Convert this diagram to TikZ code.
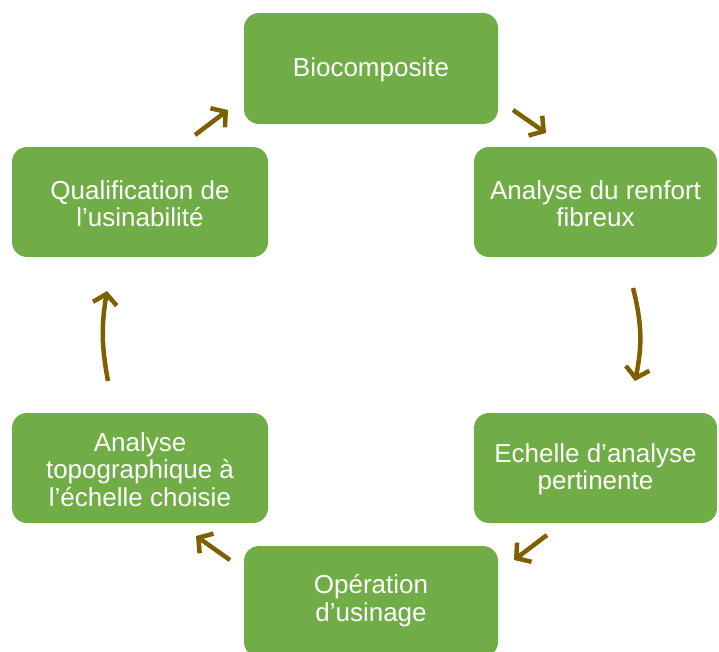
\documentclass[tikz,border=0pt]{standalone}
\usepackage{fontspec}
\setmainfont{Liberation Sans}
\usetikzlibrary{arrows.meta}
\definecolor{boxgreen}{HTML}{70AD47}
\definecolor{arrowbrown}{HTML}{7F6000}
\tikzset{
  stepbox/.style={fill=boxgreen, draw=none, rounded corners=15pt, inner sep=0pt},
  steptext/.style={inner sep=0pt, text=white, align=center, yshift=-1.5pt,
    font=\fontsize{26}{27.5}\selectfont},
  cyclearrow/.style={draw=arrowbrown, line width=4.5pt,
    -{Straight Barb[length=10pt, width=24pt]}}
}
\begin{document}
\begin{tikzpicture}[x=1pt, y=-1pt]
\useasboundingbox (0,0) rectangle (719,651);
\clip (0,0) rectangle (719,651);
\node[stepbox, minimum width=254pt, minimum height=111pt] (bio) at (371,68.5) {};
\node[stepbox, minimum width=243pt, minimum height=110pt] (renf) at (595.5,202) {};
\node[stepbox, minimum width=243pt, minimum height=110pt] (ech) at (595.5,468) {};
\node[stepbox, minimum width=254pt, minimum height=111pt] (usin) at (371,601.5) {};
\node[stepbox, minimum width=256pt, minimum height=110pt] (topo) at (140,468) {};
\node[stepbox, minimum width=256pt, minimum height=110pt] (qual) at (140,202) {};

\node[steptext] (biot) at (bio) {Biocomposite};
\node[steptext] (renft) at (renf) {Analyse du renfort\\fibreux};
\node[steptext] (echt) at (ech) {Echelle d’analyse\\pertinente};
\node[steptext] (usint) at (371,599) {Opération\\d’usinage};
\node[steptext] (topot) at (topo) {Analyse\\topographique à\\l’échelle choisie};
\node[steptext] (qualt) at (qual) {Qualification de\\l’usinabilité};

\coordinate (a1s) at (513,110);
\coordinate (a1e) at (546,133);
\coordinate (a2s) at (633,288);
\coordinate (a2e) at (635,381);
\coordinate (a3s) at (547,535);
\coordinate (a3e) at (514,560);
\coordinate (a4s) at (230,560);
\coordinate (a4e) at (196,536);
\coordinate (a5s) at (108,381);
\coordinate (a5e) at (107,291);
\coordinate (a6s) at (195,135);
\coordinate (a6e) at (228,110);

\draw[cyclearrow] (a1s) -- (a1e);
\draw[cyclearrow] (a2s) to[bend left=13] (a2e);
\draw[cyclearrow] (a3s) -- (a3e);
\draw[cyclearrow] (a4s) -- (a4e);
\draw[cyclearrow] (a5s) to[bend left=10] (a5e);
\draw[cyclearrow] (a6s) -- (a6e);
\end{tikzpicture}
\end{document}
